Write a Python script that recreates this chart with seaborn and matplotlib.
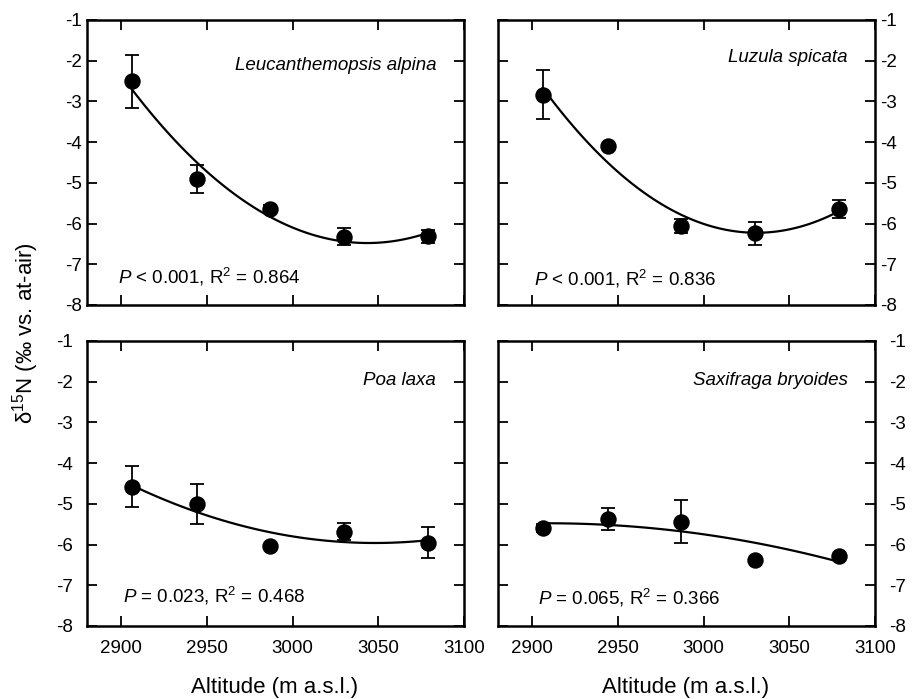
import numpy as np
import pandas as pd
import matplotlib
matplotlib.use("Agg")
import matplotlib.pyplot as plt
import seaborn as sns

sns.set_style("ticks", {'axes.edgecolor': 'black', 'text.color': 'black',
                        'xtick.color': 'black', 'ytick.color': 'black',
                        'axes.labelcolor': 'black'})
plt.rcParams['font.family'] = ['Liberation Sans', 'DejaVu Sans']
plt.rcParams['axes.unicode_minus'] = False
plt.rcParams['mathtext.fontset'] = 'custom'
plt.rcParams['mathtext.rm'] = 'Liberation Sans'
plt.rcParams['mathtext.it'] = 'Liberation Sans:italic'

# altitude of the five sampling sites (m a.s.l.)
altitude = [2906, 2944, 2987, 3030, 3079]

species = ["Leucanthemopsis alpina", "Luzula spicata", "Poa laxa", "Saxifraga bryoides"]
stats = ["$\\it{P}$ < 0.001, R$^2$ = 0.864",
         "$\\it{P}$ < 0.001, R$^2$ = 0.836",
         "$\\it{P}$ = 0.023, R$^2$ = 0.468",
         "$\\it{P}$ = 0.065, R$^2$ = 0.366"]

# mean d15N and standard error per site
leuc_mean = [-2.50, -4.91, -5.65, -6.32, -6.31]
leuc_se = [0.65, 0.34, 0.10, 0.20, 0.16]
luz_mean = [-2.83, -4.10, -6.05, -6.24, -5.65]
luz_se = [0.60, 0.05, 0.17, 0.28, 0.22]
poa_mean = [-4.58, -5.01, -6.04, -5.68, -5.96]
poa_se = [0.50, 0.49, 0.05, 0.21, 0.38]
sax_mean = [-5.60, -5.37, -5.44, -6.37, -6.27]
sax_se = [0.10, 0.28, 0.53, 0.05, 0.05]

means = [leuc_mean, luz_mean, poa_mean, sax_mean]
ses = [leuc_se, luz_se, poa_se, sax_se]

fig = plt.figure(figsize=(9.13, 6.99), dpi=100)
W, H = 913, 699
boxes = [(87, 20), (498, 20), (87, 341), (498, 341)]
label_pos = [(0.926, 0.842), (0.928, 0.87), (0.926, 0.86), (0.928, 0.863)]
stat_pos = [(0.082, 0.098), (0.095, 0.091), (0.096, 0.105), (0.106, 0.098)]

for i in range(4):
    x0, y0 = boxes[i]
    ax = fig.add_axes([x0 / W, 1 - (y0 + 285) / H, 377 / W, 285 / H])
    df = pd.DataFrame({'alt': altitude, 'd15n': means[i], 'se': ses[i]})

    sns.regplot(data=df, x='alt', y='d15n', order=2, ci=None, scatter=False,
                truncate=True, color='black', line_kws={'linewidth': 1.6}, ax=ax)
    ax.errorbar(df['alt'], df['d15n'], yerr=df['se'], fmt='none', ecolor='black',
                elinewidth=1.3, capsize=5, capthick=1.3, zorder=3)
    sns.scatterplot(data=df, x='alt', y='d15n', color='black', s=140,
                    edgecolor='black', linewidth=0, zorder=4, ax=ax)

    ax.set_xlim(2880, 3100)
    ax.set_ylim(-8, -1)
    ax.set_xticks([2900, 2950, 3000, 3050, 3100])
    ax.set_yticks(range(-8, 0))
    ax.tick_params(direction='in', top=True, bottom=True, left=True, right=True,
                   length=7, width=1.3, labelsize=13.5)
    if i % 2 == 1:
        ax.tick_params(labelleft=False, labelright=True)
    if i < 2:
        ax.tick_params(labelbottom=False)
    else:
        ax.tick_params(pad=10)
    for sp in ax.spines.values():
        sp.set_linewidth(1.8)
    ax.set_xlabel('')
    ax.set_ylabel('')

    ax.text(label_pos[i][0], label_pos[i][1], species[i], transform=ax.transAxes,
            ha='right', va='center', fontsize=13.5, style='italic')
    ax.text(stat_pos[i][0], stat_pos[i][1], stats[i], transform=ax.transAxes,
            ha='left', va='center', fontsize=13.5)

fig.text(26 / W, 1 - 333 / H, "δ$^{15}$N (‰ vs. at-air)", rotation=90,
         ha='center', va='center', fontsize=16)
fig.text((87 + 188) / W, 1 - 688 / H, "Altitude (m a.s.l.)", ha='center', va='center', fontsize=16)
fig.text((498 + 188) / W, 1 - 688 / H, "Altitude (m a.s.l.)", ha='center', va='center', fontsize=16)

plt.savefig("out.png", dpi=100)
